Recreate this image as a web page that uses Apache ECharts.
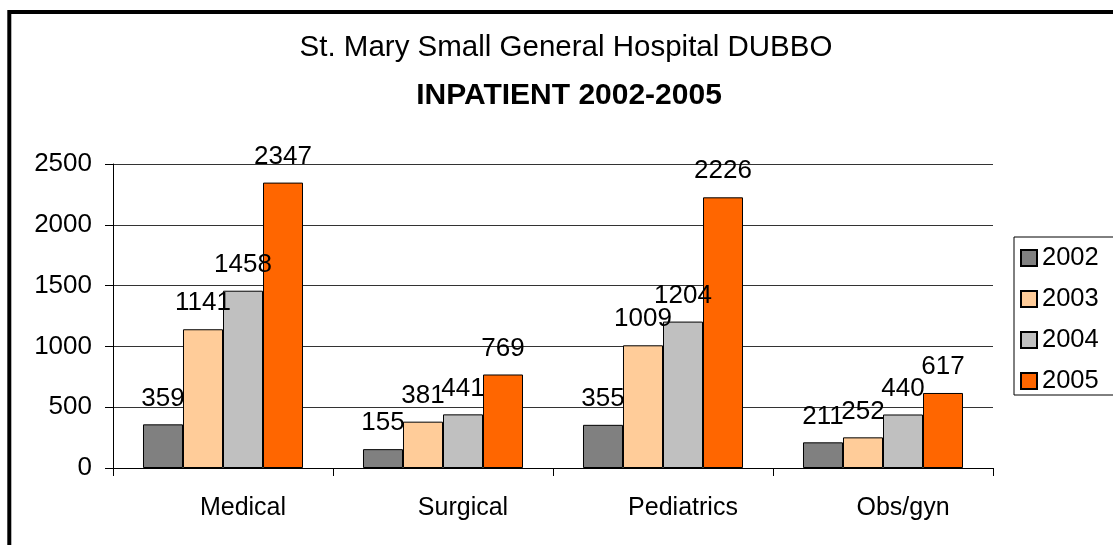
<!DOCTYPE html>
<html>
<head>
<meta charset="utf-8">
<script src="https://cdn.jsdelivr.net/npm/echarts@6/dist/echarts.min.js"></script>
<style>
html,body{margin:0;padding:0;background:#fff;}
#chart{width:1113px;height:545px;}
</style>
</head>
<body>
<div id="chart"></div>
<script>
const categories = ['Medical', 'Surgical', 'Pediatrics', 'Obs/gyn'];
const seriesNames = ['2002', '2003', '2004', '2005'];
const values2002 = [359, 155, 355, 211];
const values2003 = [1141, 381, 1009, 252];
const values2004 = [1458, 441, 1204, 440];
const values2005 = [2347, 769, 2226, 617];
const yTicks = [0, 500, 1000, 1500, 2000, 2500];
const colors = ['#808080', '#FFCC99', '#C0C0C0', '#FF6600'];

const FONT = '"Liberation Sans", Arial, Helvetica, sans-serif';
const allValues = [values2002, values2003, values2004, values2005];

const chart = echarts.init(document.getElementById('chart'), null, {renderer: 'canvas'});
chart.setOption({
  animation: false,
  backgroundColor: '#fff',
  textStyle: {fontFamily: FONT},
  title: [
    {text: 'St. Mary Small General Hospital DUBBO', left: 566, top: 33, textAlign: 'center', padding: 0,
     textStyle: {fontFamily: FONT, fontSize: 29.5, fontWeight: 'normal', color: '#000', lineHeight: 30}},
    {text: 'INPATIENT 2002-2005', left: 569, top: 81, textAlign: 'center', padding: 0,
     textStyle: {fontFamily: FONT, fontSize: 30, fontWeight: 'bold', color: '#000', lineHeight: 30}}
  ],
  graphic: [{
    type: 'rect', silent: true, z: 100,
    shape: {x: 9.3, y: 12, width: 1300, height: 700},
    style: {fill: 'none', stroke: '#000', lineWidth: 4}
  }],
  legend: {
    orient: 'vertical',
    left: 1014, top: 237,
    padding: [8, 120, 1, 6],
    itemGap: 15,
    itemWidth: 16, itemHeight: 16,
    itemTextGap: 8,
    borderColor: '#000', borderWidth: 1,
    icon: 'rect',
    textStyle: {fontFamily: FONT, fontSize: 25.5, color: '#000', lineHeight: 25},
    data: seriesNames
  },
  grid: {left: 113, right: 120, top: 164, bottom: 77, containLabel: false},
  xAxis: {
    type: 'category',
    data: categories,
    boundaryGap: true,
    axisLine: {show: true, lineStyle: {color: '#000', width: 1}},
    axisTick: {show: true, length: 8, lineStyle: {color: '#000'}},
    axisLabel: {fontFamily: FONT, fontSize: 25, color: '#000', margin: 28, padding: [0, 0, 0, 40], lineHeight: 25},
    splitLine: {show: false}
  },
  yAxis: {
    type: 'value',
    min: yTicks[0], max: yTicks[yTicks.length - 1], interval: 500,
    axisLine: {show: true, lineStyle: {color: '#000', width: 1}},
    axisTick: {show: true, length: 8, lineStyle: {color: '#000'}},
    axisLabel: {fontFamily: FONT, fontSize: 26, color: '#000', margin: 21, formatter: (v) => String(v)},
    splitLine: {show: true, lineStyle: {color: '#333', width: 1}}
  },
  series: seriesNames.map((name, i) => ({
    name: name,
    type: 'bar',
    data: allValues[i],
    barGap: '0%',
    barCategoryGap: '27.27%',
    itemStyle: {color: colors[i], borderColor: '#000', borderWidth: 1},
    label: {show: true, position: 'top', distance: 13, fontFamily: FONT, fontSize: 26, color: '#000', lineHeight: 26}
  }))
});
</script>
</body>
</html>
